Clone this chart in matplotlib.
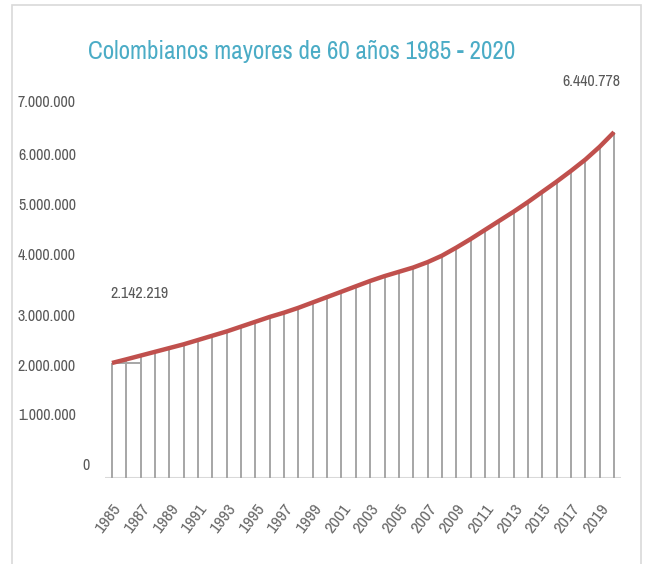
import matplotlib
matplotlib.use('Agg')
import numpy as np
import matplotlib.pyplot as plt
from matplotlib.patches import Rectangle
from matplotlib.transforms import blended_transform_factory

# Colombianos mayores de 60 anos
years = list(range(1985, 2021))
people = [2142219, 2210000, 2280000, 2350000, 2420000, 2490000, 2570000, 2650000,
          2730000, 2820000, 2910000, 3000000, 3080000, 3170000, 3270000, 3370000,
          3470000, 3570000, 3670000, 3760000, 3840000, 3920000, 4020000, 4140000,
          4290000, 4450000, 4620000, 4790000, 4960000, 5140000, 5330000, 5520000,
          5720000, 5930000, 6170000, 6440778]

ytick_text = ['0', '1.000.000', '2.000.000', '3.000.000', '4.000.000',
              '5.000.000', '6.000.000', '7.000.000']
# the labels in the original sit a bit off their true values
ytick_pos = [0.24e6, 1.17e6, 2.07e6, 3.0e6, 4.15e6, 5.08e6, 6.01e6, 7.0e6]
xtick_years = list(range(1985, 2020, 2))

fontfam = ['Liberation Sans Narrow', 'Archivo Narrow', 'DejaVu Sans']
plt.rcParams['font.family'] = fontfam
grey = '#595959'

fig = plt.figure(figsize=(6.46, 5.64), dpi=100)
W, H = 646.0, 564.0
ax = fig.add_axes([104.8 / W, 1 - 478 / H, 516.4 / W, 378 / H])
ax.set_xlim(1984.5, 2020.5)
ax.set_ylim(0, 7.04e6)

ax.vlines(years, 0, people, color='#a6a6a6', lw=1.4, zorder=2)
ax.hlines(people[0], years[0], years[2], color='#a6a6a6', lw=1.4, zorder=2)
ax.plot(years, people, color='#c0504d', lw=3.2, solid_capstyle='butt', zorder=3)
ax.axhline(0, color='#d9d9d9', lw=2.2, zorder=1)

for s in ax.spines.values():
    s.set_visible(False)
ax.set_yticks([])
ax.set_xticks(xtick_years)
ax.set_xticklabels([str(y) for y in xtick_years], rotation=53, ha='right',
                   va='top', rotation_mode='anchor', color='#6a6a6a', fontsize=12.5)
ax.tick_params(axis='x', length=0, pad=17)
for lbl in ax.get_xticklabels():
    lbl.set_x(lbl.get_position()[0])

# y labels
tr = blended_transform_factory(fig.transFigure, ax.transData)
for t, p in zip(ytick_text, ytick_pos):
    xr = 90 if t == '0' else 76
    ax.text(xr / W, p, t, transform=tr, ha='right', va='center',
            color=grey, fontsize=11.5)

# first and last value
ax.annotate('2.142.219', xy=(years[0], people[0]), xytext=(-2, 69),
            textcoords='offset pixels', ha='left', va='center',
            color=grey, fontsize=11.5)
ax.annotate('6.440.778', xy=(years[-1], people[-1]), xytext=(6, 51),
            textcoords='offset pixels', ha='right', va='center',
            color=grey, fontsize=11.5)

fig.text(88 / W, 1 - 59 / H, 'Colombianos mayores de 60 años 1985 - 2020',
         color='#4bacc6', fontsize=18, ha='left', va='baseline')

fig.patches.append(Rectangle((12 / W, -0.02), 629 / W, 1 - 5 / H + 0.02,
                             transform=fig.transFigure, fill=False,
                             edgecolor='#d9d9d9', lw=1.2))

fig.savefig('out.png', dpi=100)
